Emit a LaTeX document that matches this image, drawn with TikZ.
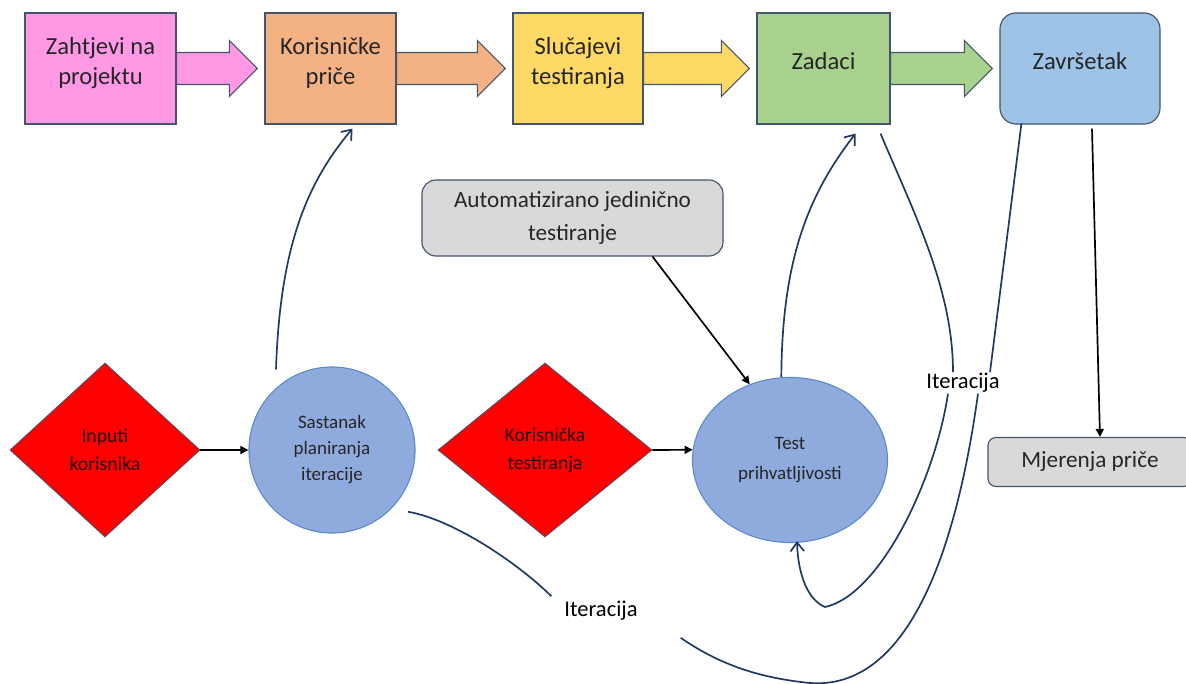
\documentclass[tikz,border=0pt]{standalone}
\usepackage{fontspec}
\setmainfont{Carlito}
\usetikzlibrary{shapes.geometric,arrows.meta,calc,positioning}
\definecolor{pinkc}{HTML}{FF99E6}
\definecolor{orangec}{HTML}{F4B183}
\definecolor{yellowc}{HTML}{FFD966}
\definecolor{greenc}{HTML}{A9D18E}
\definecolor{bluec}{HTML}{9DC3E6}
\definecolor{greyc}{HTML}{D9D9D9}
\definecolor{circc}{HTML}{8FAADC}
\definecolor{circedge}{HTML}{5B8BC9}
\definecolor{edgec}{HTML}{44546A}
\definecolor{navyc}{HTML}{203864}
\definecolor{txtc}{HTML}{262626}
\newcommand{\liftup}[2]{\raisebox{#1}[\height][\depth]{\begin{tabular}{@{}c@{}}#2\end{tabular}}}
\begin{document}
\begin{tikzpicture}[x=0.025cm,y=0.025cm,
topbox/.style={draw=edgec,line width=0.8pt,rectangle,minimum height=2.775cm,align=center,text=txtc,font=\fontsize{17.5}{21.5}\selectfont},
greybox/.style={draw=edgec,line width=0.8pt,fill=greyc,rectangle,rounded corners=0.35cm,align=center,text=txtc,font=\fontsize{16.5}{24}\selectfont},
rhomb/.style={draw=edgec,line width=0.6pt,fill=red,diamond,minimum width=4.75cm,minimum height=4.35cm,inner sep=0pt,align=center,text=black!85!red,font=\fontsize{14}{20}\selectfont},
meet/.style={draw=circedge,line width=0.8pt,fill=circc,align=center,text=txtc,font=\fontsize{13.5}{18.5}\selectfont},
iterlabel/.style={inner sep=2pt,text=black,font=\fontsize{16}{19}\selectfont},
flow/.style={navyc,line width=1.2pt},
flowarrow/.style={flow,-{Straight Barb[length=2.2mm,width=3.4mm,line width=1.2pt]}},
plain/.style={black,line width=1.2pt,-{Triangle[length=2mm,width=2mm]}},
barrow/.style={draw=edgec,line width=0.8pt}]

\useasboundingbox (0,0) rectangle (1186,-684);

\node [topbox, fill=pinkc, minimum width=3.775cm] (zah) at (100.5,-68.5) {\liftup{0.13cm}{Zahtjevi na\\projektu}};
\node [topbox, fill=orangec, minimum width=3.275cm] (kor) at (330.5,-68.5) {\liftup{0.13cm}{Korisničke\\priče}};
\node [topbox, fill=yellowc, minimum width=3.25cm] (slu) at (578,-68.5) {\liftup{0.13cm}{Slučajevi\\testiranja}};
\node [topbox, fill=greenc, minimum width=3.325cm] (zad) at (823.5,-68.5) {\liftup{0.13cm}{Zadaci}};
\node [topbox, fill=bluec, minimum width=4cm, rounded corners=0.4cm] (zav) at (1080,-68.5) {\liftup{0.13cm}{Završetak}};

\foreach \a/\b/\c in {zah/kor/pinkc, kor/slu/orangec, slu/zad/yellowc, zad/zav/greenc}
  \draw [barrow, fill=\c] ($(\a.east)+(0,16)$) -- ($(\b.west)+(-35,16)$) -- ++(0,12)
    -- ($(\b.west)+(-7,0)$) -- ($(\b.west)+(-35,-28)$) -- ++(0,12) -- ($(\a.east)+(0,-16)$) -- cycle;

\node [greybox, minimum width=7.525cm, minimum height=1.9cm] (auto) at (572.5,-218) {Automatizirano jedinično\\testiranje};

\node [rhomb] (inp) at (105,-450) {Inputi\\korisnika};
\node [meet, circle, minimum size=4.15cm, inner sep=0pt] (sas) at (332,-450) {Sastanak\\planiranja\\iteracije};
\node [rhomb, minimum width=5.35cm] (kt) at (545,-450) {Korisnička\\testiranja};
\node [meet, ellipse, minimum width=4.875cm, minimum height=4.125cm, inner sep=0pt, font=\fontsize{13.5}{21}\selectfont] (test) at (790,-460) {Test\\prihvatljivosti};

\node [iterlabel] (it2) at (963,-383) {Iteracija};
\node [iterlabel] (it1) at (601,-611) {Iteracija};

\node [greybox, rounded corners=0.2cm, minimum width=5.1cm, minimum height=1.225cm, font=\fontsize{16.5}{19}\selectfont] (mje) at (1090,-462) {Mjerenja priče};

\draw [plain] (inp.east) -- (sas.west);
\draw [plain] (kt.east) -- (test.174);
\draw [plain] ($(auto.south)+(80,0)$) -- (test.118);
\draw [plain] ($(zav.south)+(12,-4)$) -- ($(mje.north)+(10,0)$);

\draw [flowarrow] ($(sas.north)+(-56,-3)$) .. controls (280,-250) and (305,-185) .. ($(kor.south)+(22,-4)$);
\draw [flowarrow] (test.96) .. controls (782,-260) and (808,-195) .. ($(zad.south)+(32,-9)$);
\draw [flow] ($(zad.south)+(57,-9)$) .. controls (915,-215) and (953,-290) .. ($(it2.north)+(-10,-2)$);
\draw [flowarrow] ($(it2.south)+(-15,2)$) .. controls (935,-480) and (880,-595) .. (825,-607)
  .. controls (808,-600) and (798,-575) .. ($(test.south)+(7,2)$);
\draw [flow] ($(zav.south west)+(22,1)$) -- ($(it2.north)+(27,-2)$);
\draw [flow] ($(it2.south)+(15,2)$) .. controls (955,-560) and (905,-690) .. (810,-683)
  .. controls (760,-678) and (720,-665) .. ($(it1.south east)+(40,-14)$);
\draw [flow] ($(it1.north west)+(-10,2)$) .. controls (520,-565) and (455,-520) .. ($(sas.-40)+(12,-8)$);

\end{tikzpicture}
\end{document}
